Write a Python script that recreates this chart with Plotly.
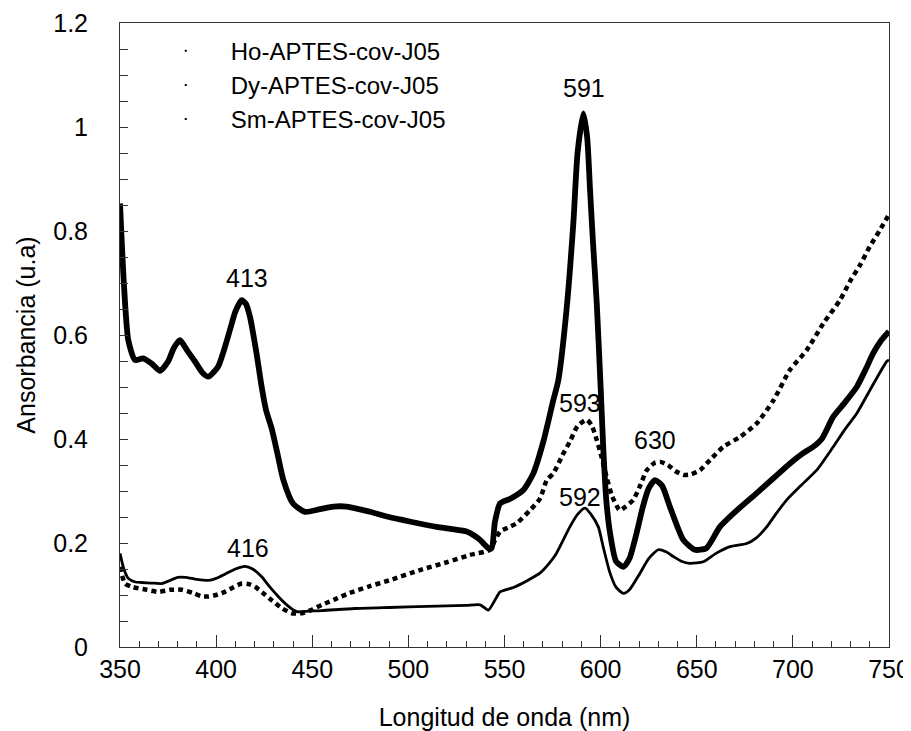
import plotly.graph_objects as go

# Thick solid series
ho_x = [350, 352, 354.3, 357.8, 362, 366.5, 370.8, 375, 378, 381.2, 385, 389, 393, 396, 401, 404, 407.2, 410,
        413.3, 415.5, 417.6, 421, 423.7, 426, 428.9, 432, 435, 440, 446.2, 454, 461, 468, 480, 490, 497.4, 505,
        514.7, 522, 530.3, 534, 537.3, 541.6, 543.3, 545, 547.7, 553, 559.8, 565, 570.2, 575.4, 578, 582.3,
        585.8, 588, 591, 593, 594.5, 596, 598, 600, 601.4, 603, 604.9, 608, 611.8, 615, 618.7, 622, 625, 628.3,
        632, 636, 643, 649, 655, 662, 670, 681.2, 690, 698.5, 705, 710.6, 715, 721, 727, 733.2, 738, 741.8,
        746, 750]
ho_y = [0.853, 0.70, 0.59, 0.552, 0.555, 0.545, 0.531, 0.549, 0.575, 0.590, 0.57, 0.549, 0.527, 0.520, 0.539,
        0.57, 0.61, 0.645, 0.667, 0.66, 0.635, 0.565, 0.5, 0.455, 0.42, 0.37, 0.321, 0.276, 0.26, 0.265, 0.27,
        0.27, 0.26, 0.25, 0.244, 0.238, 0.231, 0.227, 0.222, 0.215, 0.206, 0.19, 0.19, 0.24, 0.276, 0.285,
        0.302, 0.334, 0.395, 0.475, 0.513, 0.65, 0.815, 0.95, 1.026, 0.98, 0.879, 0.78, 0.66, 0.5, 0.38, 0.28,
        0.219, 0.165, 0.154, 0.17, 0.219, 0.27, 0.305, 0.321, 0.31, 0.27, 0.206, 0.187, 0.19, 0.231, 0.26,
        0.296, 0.325, 0.353, 0.372, 0.385, 0.40, 0.443, 0.47, 0.5, 0.535, 0.565, 0.59, 0.607]

# Thin solid series
dy_x = [350, 352, 354.3, 358, 361.3, 366, 371.7, 376, 380, 384, 390, 396, 400, 404.6, 410, 415, 419, 423.7, 428,
        432.3, 437, 441.9, 448, 454.9, 472, 490, 510, 530, 537.3, 541.6, 545, 547.7, 555, 562, 568.4, 573, 577,
        584, 588, 591.9, 595, 598.8, 601.5, 604.9, 608, 611.8, 615, 620.5, 625, 630, 634, 637.8, 642, 646.5,
        653.4, 660, 667.3, 676, 681, 686.4, 691, 696.8, 704, 712.4, 721, 727, 733.2, 741, 748.8, 750]
dy_y = [0.18, 0.15, 0.132, 0.125, 0.124, 0.123, 0.122, 0.128, 0.134, 0.134, 0.13, 0.128, 0.132, 0.14, 0.15, 0.155,
        0.15, 0.135, 0.115, 0.097, 0.08, 0.068, 0.069, 0.07, 0.074, 0.076, 0.078, 0.08, 0.081, 0.071, 0.09,
        0.106, 0.115, 0.128, 0.142, 0.16, 0.18, 0.231, 0.255, 0.267, 0.255, 0.231, 0.19, 0.142, 0.115, 0.103,
        0.11, 0.142, 0.17, 0.187, 0.183, 0.174, 0.165, 0.161, 0.164, 0.18, 0.193, 0.199, 0.21, 0.231, 0.255,
        0.283, 0.31, 0.34, 0.385, 0.418, 0.449, 0.5, 0.549, 0.552]

# Dotted series
sm_x = [350, 352.6, 356, 359.5, 364, 369.9, 376, 382.1, 388, 392, 396, 400, 404.6, 409, 413.3, 417, 420.2, 424,
        428.9, 434, 439.3, 444.5, 450, 455, 462, 468.8, 480, 490, 506, 520, 532, 542.5, 545, 547.7, 552, 556.3,
        563.3, 568.4, 572, 575.4, 580.6, 584, 588, 592.8, 595.5, 598, 600.5, 603.1, 606, 610, 613, 617, 620.5,
        624, 628, 631, 635, 639, 643, 647, 651.7, 657, 663.8, 672.5, 681.2, 690, 698.5, 707.2, 715.8, 724.5,
        729.7, 735, 740, 745, 750]
sm_y = [0.154, 0.122, 0.116, 0.113, 0.11, 0.106, 0.11, 0.11, 0.104, 0.098, 0.097, 0.1, 0.106, 0.115, 0.122,
        0.121, 0.116, 0.105, 0.09, 0.075, 0.065, 0.065, 0.072, 0.081, 0.092, 0.103, 0.117, 0.128, 0.148, 0.163,
        0.177, 0.187, 0.205, 0.222, 0.23, 0.238, 0.263, 0.285, 0.321, 0.334, 0.372, 0.395, 0.425, 0.437, 0.425,
        0.398, 0.365, 0.327, 0.29, 0.263, 0.27, 0.283, 0.31, 0.34, 0.354, 0.356, 0.35, 0.338, 0.331, 0.332,
        0.34, 0.36, 0.385, 0.404, 0.43, 0.475, 0.533, 0.571, 0.622, 0.667, 0.703, 0.735, 0.77, 0.80, 0.832]

series_names = ["Ho-APTES-cov-J05", "Dy-APTES-cov-J05", "Sm-APTES-cov-J05"]

peak_labels = ["413", "591", "416", "593", "592", "630"]
peak_x = [415.9, 591.4, 416.7, 589.3, 589.3, 628.3]
peak_y = [0.71, 1.075, 0.19, 0.469, 0.288, 0.398]

x_ticks = [350, 400, 450, 500, 550, 600, 650, 700, 750]
y_ticks = [0, 0.2, 0.4, 0.6, 0.8, 1, 1.2]

FONT = "Liberation Sans, Arial, sans-serif"
FS = 25

fig = go.Figure()
fig.add_trace(go.Scatter(x=ho_x, y=ho_y, mode="lines", showlegend=False,
                         line=dict(color="black", width=5.8, shape="spline", smoothing=0.6)))
fig.add_trace(go.Scatter(x=dy_x, y=dy_y, mode="lines", showlegend=False,
                         line=dict(color="black", width=2.8, shape="spline", smoothing=0.6)))
fig.add_trace(go.Scatter(x=sm_x, y=sm_y, mode="lines", showlegend=False,
                         line=dict(color="black", width=4.5, dash="5px,4px", shape="spline", smoothing=0.6)))

for name in series_names:
    fig.add_trace(go.Scatter(x=[None], y=[None], mode="markers", name=name,
                             marker=dict(color="black", size=2, symbol="square")))

for t, xv, yv in zip(peak_labels, peak_x, peak_y):
    fig.add_annotation(x=xv, y=yv, text=t, showarrow=False,
                       font=dict(family=FONT, size=FS, color="black"))

fig.update_layout(
    width=903, height=723,
    margin=dict(l=112, r=22, t=15, b=84, autoexpand=False),
    paper_bgcolor="white", plot_bgcolor="white",
    font=dict(family=FONT, size=FS, color="black"),
    legend=dict(x=0.027, y=0.991, xanchor="left", yanchor="top",
                bgcolor="rgba(0,0,0,0)", font=dict(family=FONT, size=24, color="black"),
                tracegroupgap=0, itemwidth=80),
)
fig.update_xaxes(
    range=[350, 750], tickvals=x_ticks, ticktext=[str(v) for v in x_ticks],
    ticks="inside", ticklen=12, tickwidth=1, tickcolor="#333",
    minor=dict(dtick=10, ticks="inside", ticklen=6, tickwidth=1, tickcolor="#333"),
    showline=True, linecolor="#333", linewidth=1, mirror=True,
    showgrid=False, zeroline=False,
    title=dict(text="Longitud de onda (nm)", standoff=29, font=dict(family=FONT, size=FS)),
    tickfont=dict(family=FONT, size=FS),
)
fig.update_yaxes(
    range=[0, 1.2], tickvals=y_ticks, ticktext=["0", "0.2", "0.4", "0.6", "0.8", "1", "1.2"],
    ticks="inside", ticklen=8, tickwidth=1, tickcolor="#333",
    minor=dict(dtick=0.05, ticks="inside", ticklen=8, tickwidth=1, tickcolor="#333"),
    showline=True, linecolor="#333", linewidth=1, mirror=True,
    showgrid=False, zeroline=False, ticklabelstandoff=26,
    title=dict(text="Ansorbancia (u.a)", standoff=10, font=dict(family=FONT, size=FS)),
    tickfont=dict(family=FONT, size=FS),
)

fig.write_html("out.html")
